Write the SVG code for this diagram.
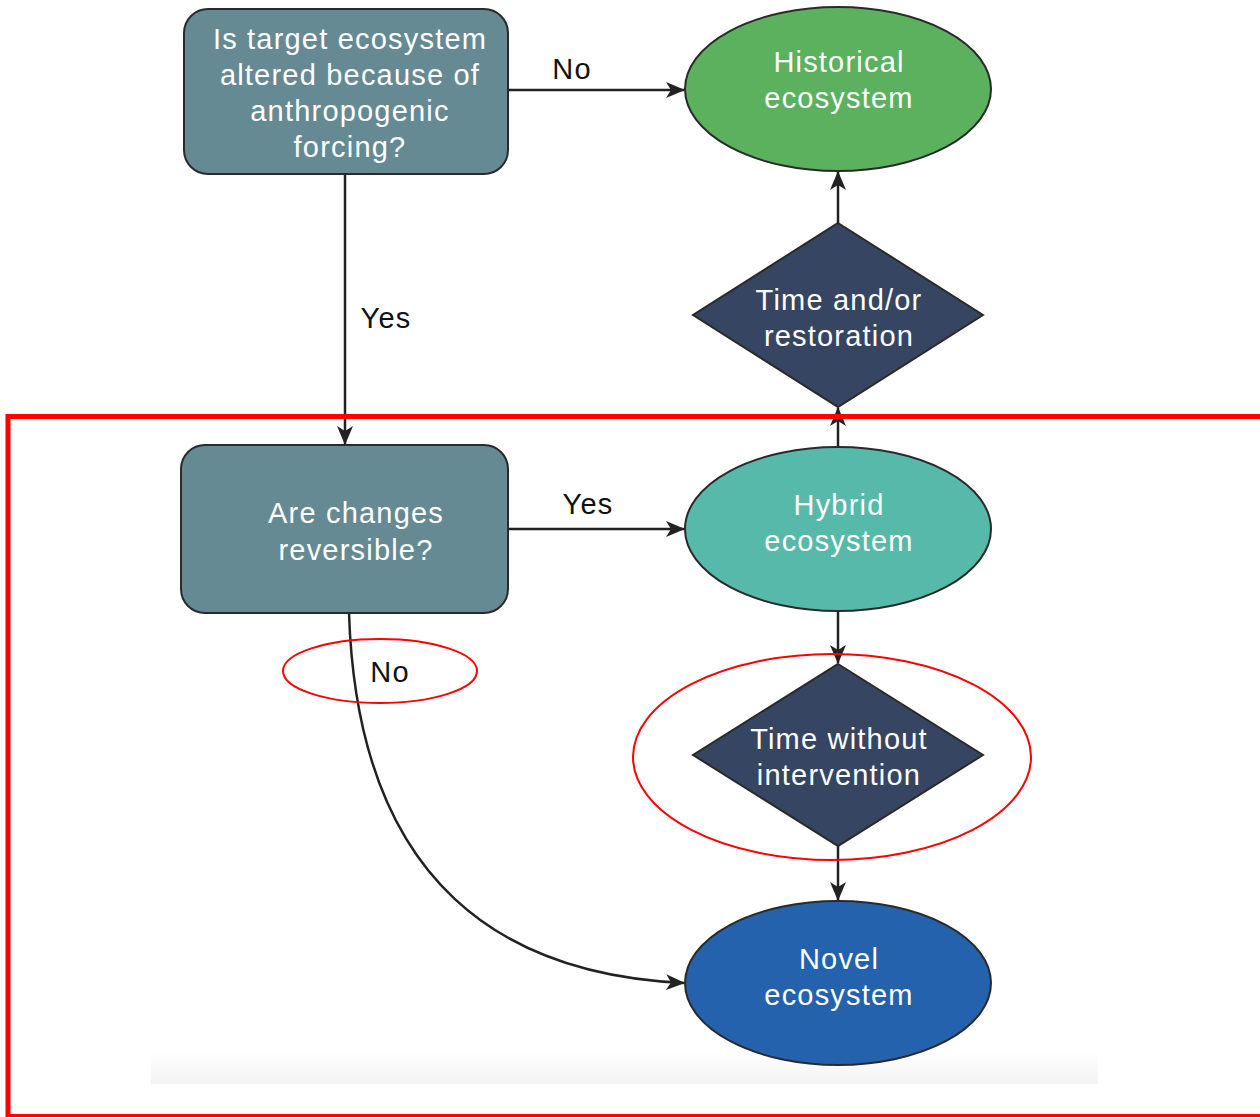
<svg xmlns="http://www.w3.org/2000/svg" width="1260" height="1117" viewBox="0 0 1260 1117">
<defs>
<marker id="arr" markerUnits="userSpaceOnUse" markerWidth="22" markerHeight="18" refX="18" refY="8" orient="auto">
<path d="M0,0 L19,8 L0,16 L5,8 z" fill="#222"/>
</marker>
<linearGradient id="band" x1="0" y1="0" x2="0" y2="1">
<stop offset="0" stop-color="#ffffff"/>
<stop offset="1" stop-color="#f3f3f3"/>
</linearGradient>
<style>
.nt{font-family:"Liberation Sans",Arial,sans-serif;font-size:29px;letter-spacing:1.2px;fill:#ffffff;text-anchor:middle}
.lb{font-family:"Liberation Sans",Arial,sans-serif;font-size:29px;letter-spacing:1.2px;fill:#111;text-anchor:middle}
.edge{fill:none;stroke:#222;stroke-width:2.5;marker-end:url(#arr)}
.ns{stroke:#2a2a2a;stroke-width:2}
.hl{fill:none;stroke:#ff0000}
</style>
</defs>
<rect x="0" y="0" width="1260" height="1117" fill="#ffffff"/>
<rect x="151" y="1052" width="947" height="32" fill="url(#band)"/>
<g id="connectors">
<path class="edge" d="M508,90 L684,90"/>
<path class="edge" d="M345,174 L345,444"/>
<path class="edge" d="M508,529 L684,529"/>
<path class="edge" d="M838,447 L838,408"/>
<path class="edge" d="M838,223 L838,172"/>
<path class="edge" d="M838,611 L838,663"/>
<path class="edge" d="M838,846 L838,900"/>
<path class="edge" d="M349,613 C358,890 510,975 684,983"/>
<text class="lb" x="572" y="79">No</text>
<text class="lb" x="386" y="328">Yes</text>
<text class="lb" x="588" y="514">Yes</text>
<text class="lb" x="390" y="682">No</text>
</g>
<g id="q1">
<rect class="ns" x="184" y="9" width="324" height="165" rx="24" fill="#668a94"/>
<text class="nt" x="350" y="49">Is target ecosystem</text>
<text class="nt" x="350" y="85">altered because of</text>
<text class="nt" x="350" y="121">anthropogenic</text>
<text class="nt" x="350" y="157">forcing?</text>
</g>
<g id="historical">
<ellipse class="ns" cx="838" cy="89" rx="153" ry="82" fill="#5bb15e"/>
<text class="nt" x="839" y="72">Historical</text>
<text class="nt" x="839" y="108">ecosystem</text>
</g>
<g id="restoration">
<polygon class="ns" points="838,223 983,315 838,407 693,315" fill="#364562"/>
<text class="nt" x="839" y="310">Time and/or</text>
<text class="nt" x="839" y="346">restoration</text>
</g>
<g id="q2">
<rect class="ns" x="181" y="445" width="327" height="168" rx="24" fill="#668a94"/>
<text class="nt" x="356" y="523">Are changes</text>
<text class="nt" x="356" y="560">reversible?</text>
</g>
<g id="hybrid">
<ellipse class="ns" cx="838" cy="529" rx="153" ry="82" fill="#57b9a9"/>
<text class="nt" x="839" y="515">Hybrid</text>
<text class="nt" x="839" y="551">ecosystem</text>
</g>
<g id="time">
<polygon class="ns" points="838,664 983,755 838,846 693,755" fill="#364562"/>
<text class="nt" x="839" y="749">Time without</text>
<text class="nt" x="839" y="785">intervention</text>
</g>
<g id="novel">
<ellipse class="ns" cx="838" cy="983" rx="153" ry="82" fill="#2462ad"/>
<text class="nt" x="839" y="969">Novel</text>
<text class="nt" x="839" y="1005">ecosystem</text>
</g>
<g id="highlights">
<rect class="hl" x="8" y="416.5" width="1260" height="700" stroke-width="5"/>
<ellipse class="hl" cx="380" cy="671" rx="97" ry="32" stroke-width="2"/>
<ellipse class="hl" cx="832" cy="757" rx="199" ry="103" stroke-width="2"/>
</g>
</svg>
